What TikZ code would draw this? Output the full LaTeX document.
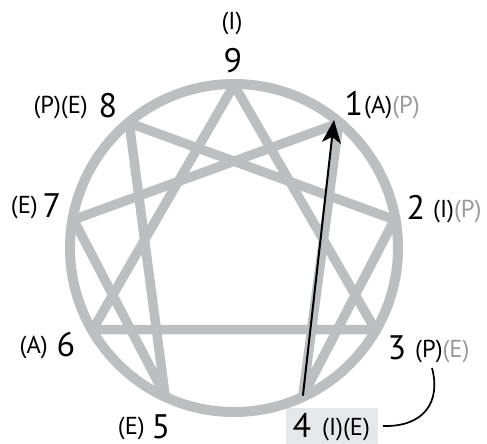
\documentclass[tikz,border=0pt]{standalone}
\usepackage{fontspec}
\setmainfont{PT Sans}
\usetikzlibrary{arrows.meta}
\definecolor{ring}{HTML}{BCBEC0}
\definecolor{lite}{HTML}{98999B}
\definecolor{boxg}{HTML}{E6E7E8}
\begin{document}
\begin{tikzpicture}[x=1pt,y=-1pt,
  gl/.style={draw=ring,line width=9.5pt},
  dig/.style={inner sep=0pt,font=\fontsize{34}{34}\selectfont},
  par/.style={inner sep=0pt,font=\fontsize{24.5}{24.5}\selectfont},
  link/.style={draw=black,line width=1.7pt}]
\useasboundingbox (0,0) rectangle (487,444);
% vertices
\coordinate (v9) at (234,85);
\coordinate (v1) at (338.8,123.1);
\coordinate (v2) at (394.5,219.7);
\coordinate (v3) at (375.2,329.5);
\coordinate (v4) at (302.9,395.7);
\coordinate (v5) at (165.1,395.7);
\coordinate (v6) at (92.8,329.5);
\coordinate (v7) at (73.5,219.7);
\coordinate (v8) at (129.2,123.1);
\coordinate (a1) at (334,120);
% label box of 4
\node[fill=boxg,minimum width=92pt,minimum height=36pt,inner sep=0pt] (box4) at (332,426) {};
% lines
\draw[gl] (v9)--(v3) (v3)--(v6) (v6)--(v9)
  (v1)--(v4) (v4)--(v2) (v2)--(v8) (v8)--(v5) (v5)--(v7) (v7)--(v1);
\node[draw=ring,line width=10pt,circle,minimum size=328pt,inner sep=0pt] (ringc) at (234,248) {};
% arrow
\draw[line width=2pt,-{Stealth[length=23pt,width=19pt,inset=6pt]}] (v4) -- (a1);
% digits
\node[dig] (n9) at (233,61) {9};
\node[dig] (n1) at (354,103) {1};
\node[dig] (n2) at (416,207) {2};
\node[dig] (n3) at (397,348) {3};
\node[dig] (n4) at (302,425) {4};
\node[dig] (n5) at (161,427) {5};
\node[dig] (n6) at (66,345) {6};
\node[dig] (n7) at (52,206) {7};
\node[dig] (n8) at (108,106) {8};
% letter labels
\node[par] (p9) at (232,23) {(I)};
\node[par,anchor=west] (p1) at (364,107) {(A)\textcolor{lite}{(P)}};
\node[par,anchor=west] (p2) at (433,211) {(I)\textcolor{lite}{(P)}};
\node[par,anchor=west] (p3) at (415,351) {(P)\textcolor{lite}{(E)}};
\node[par,anchor=west] (p4) at (322,429) {(I)(E)};
\node[par,anchor=east] (p5) at (145,428) {(E)};
\node[par,anchor=east] (p6) at (48,347) {(A)};
\node[par,anchor=east] (p7) at (38,207) {(E)};
\node[par,anchor=east] (p8) at (88,107) {(P)(E)};
% connector
\coordinate (c3) at (432,368);
\draw[link] (c3) .. controls (441,402) and (424,427) .. ([xshift=5pt]box4.east);
\end{tikzpicture}
\end{document}
